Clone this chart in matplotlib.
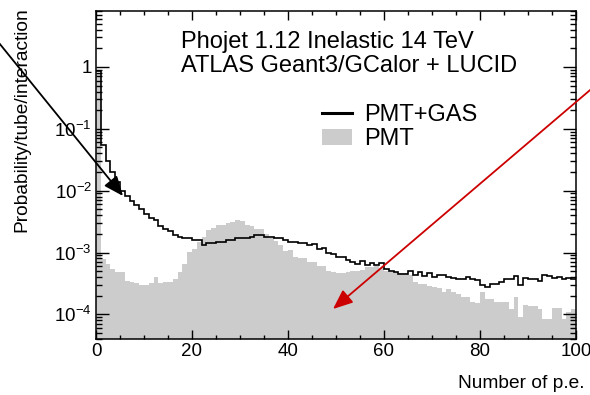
"""LUCID p.e. spectrum: PMT+GAS vs PMT only (ROOT-style log histogram)."""
import matplotlib
matplotlib.use("Agg")
import matplotlib.pyplot as plt
import numpy as np
from matplotlib.lines import Line2D
from matplotlib.patches import Patch
from matplotlib.ticker import FixedLocator, FixedFormatter, LogLocator, MultipleLocator, NullFormatter

# bin edges: 100 bins of 1 p.e.
edges = list(range(0, 101))

pmt_gas = [
    0.85, 0.055, 0.030, 0.020, 0.0136, 0.010, 0.0083, 0.0069, 0.0059, 0.0051,
    0.0042, 0.0036, 0.0033, 0.0027, 0.0024, 0.0022, 0.0019, 0.0018, 0.0017, 0.0017,
    0.0016, 0.0016, 0.0013, 0.0014, 0.0014, 0.0015, 0.0015, 0.0016, 0.0016, 0.0017,
    0.0017, 0.0017, 0.0018, 0.0019, 0.0019, 0.0018, 0.0018, 0.0017, 0.0017, 0.0016,
    0.0015, 0.0015, 0.00141, 0.00141, 0.0013, 0.00135, 0.00116, 0.0012, 0.00098, 0.00093,
    0.00084, 0.00084, 0.00076, 0.0007, 0.00066, 0.00072, 0.00063, 0.00067, 0.00063, 0.00067,
    0.00055, 0.00051, 0.00048, 0.00045, 0.00045, 0.0005, 0.00043, 0.00048, 0.00041, 0.00046,
    0.0004, 0.00044, 0.00044, 0.0004, 0.00039, 0.00038, 0.00038, 0.0004, 0.00038, 0.00036,
    0.0003, 0.00028, 0.00031, 0.00031, 0.00033, 0.00037, 0.00037, 0.00041, 0.0003, 0.00039,
    0.00038, 0.00038, 0.00034, 0.00044, 0.00041, 0.00039, 0.0004, 0.00038, 0.00039, 0.00037,
]

pmt = [
    0.80, 0.00079, 0.00064, 0.00055, 0.00048, 0.00049, 0.00035, 0.00033, 0.00032, 0.0003,
    0.0003, 0.00032, 0.0004, 0.00032, 0.00033, 0.00033, 0.00038, 0.00049, 0.00066, 0.00101,
    0.00116, 0.0015, 0.0018, 0.0023, 0.0025, 0.0028, 0.0028, 0.003, 0.0031, 0.0033,
    0.0032, 0.0028, 0.0027, 0.0024, 0.0024, 0.002, 0.0017, 0.00156, 0.0013, 0.00104,
    0.0011, 0.00086, 0.0008, 0.0008, 0.0007, 0.00069, 0.0006, 0.0006, 0.0005, 0.00048,
    0.00047, 0.00047, 0.00048, 0.0005, 0.0005, 0.00053, 0.00058, 0.00058, 0.0006, 0.00056,
    0.0005, 0.00049, 0.00048, 0.00047, 0.00046, 0.00043, 0.00033, 0.00031, 0.00031, 0.00029,
    0.00028, 0.00027, 0.00023, 0.00026, 0.00023, 0.00021, 0.00019, 0.00019, 0.00016, 0.00015,
    0.00023, 0.00018, 0.00018, 0.00016, 0.00016, 0.00016, 0.000124, 0.00019, 0.00009, 0.000144,
    0.000136, 0.000136, 0.000124, 0.000083, 0.000083, 0.000127, 0.000127, 0.000083, 0.00011, 0.000124,
]

ytick_vals = [1e-4, 1e-3, 1e-2, 1e-1, 1]
ytick_labels = [r"$\mathregular{10^{-4}}$", r"$\mathregular{10^{-3}}$",
                r"$\mathregular{10^{-2}}$", r"$\mathregular{10^{-1}}$", "1"]

plt.rcParams["font.family"] = ["Liberation Sans", "DejaVu Sans"]
plt.rcParams["mathtext.fontset"] = "custom"
plt.rcParams["mathtext.rm"] = "Liberation Sans"
plt.rcParams["mathtext.it"] = "Liberation Sans:italic"

W, H = 590, 395
fig = plt.figure(figsize=(W / 100, H / 100), dpi=100)
ax = fig.add_axes([96 / W, 1 - 339 / H, 480 / W, 328 / H])

ax.stairs(pmt, edges, fill=True, color="#cccccc", baseline=1e-7, lw=0)
ax.stairs(pmt_gas, edges, color="black", lw=1.2, baseline=None)

ax.set_yscale("log")
ax.set_xlim(0, 100)
ax.set_ylim(4e-5, 8)

ax.xaxis.set_major_locator(MultipleLocator(20))
ax.xaxis.set_minor_locator(MultipleLocator(5))
ax.yaxis.set_major_locator(FixedLocator(ytick_vals))
ax.yaxis.set_major_formatter(FixedFormatter(ytick_labels))
ax.yaxis.set_minor_locator(LogLocator(base=10, subs=np.arange(2, 10)))
ax.yaxis.set_minor_formatter(NullFormatter())

ax.tick_params(which="both", direction="in", top=True, right=True, labelsize=13.5, width=1)
ax.tick_params(axis="y", which="major", length=9.5, pad=3)
ax.tick_params(axis="y", which="minor", length=4.5)
ax.tick_params(axis="x", which="major", length=6.5, pad=3)
ax.tick_params(axis="x", which="minor", length=3.2)
for s in ax.spines.values():
    s.set_linewidth(1.1)

fig.text(22 / W, 1 - 120 / H, "Probability/tube/interaction", rotation=90,
         ha="center", va="center", fontsize=13.8)
fig.text(585 / W, 1 - 383 / H, "Number of p.e.", ha="right", va="center", fontsize=13.8)

fig.text(181 / W, 1 - 42 / H, "Phojet 1.12 Inelastic 14 TeV", ha="left", va="center", fontsize=17)
fig.text(181 / W, 1 - 66 / H, "ATLAS Geant3/GCalor + LUCID", ha="left", va="center", fontsize=17)

handles = [Line2D([], [], color="black", lw=2.2), Patch(facecolor="#cccccc", edgecolor="none")]
fig.legend(handles, ["PMT+GAS", "PMT"], loc="center left",
           bbox_to_anchor=(322 / W, 1 - 127 / H), frameon=False, fontsize=17,
           handlelength=1.27, handletextpad=0.5, labelspacing=0.1,
           borderpad=0, borderaxespad=0)

# annotation arrows
ax.annotate("", xy=(123 / W, 1 - 196 / H), xytext=(-5 / W, 1 - 38 / H),
            xycoords="figure fraction", textcoords="figure fraction",
            arrowprops=dict(arrowstyle="-|>,head_length=1.2,head_width=0.5",
                            color="black", lw=1.3, shrinkA=0, shrinkB=0))
ax.annotate("", xy=(333 / W, 1 - 309 / H), xytext=(596 / W, 1 - 85 / H),
            xycoords="figure fraction", textcoords="figure fraction",
            arrowprops=dict(arrowstyle="-|>,head_length=1.2,head_width=0.5",
                            color="#cc0000", lw=1.3, shrinkA=0, shrinkB=0))

fig.savefig("out.png", dpi=100)
